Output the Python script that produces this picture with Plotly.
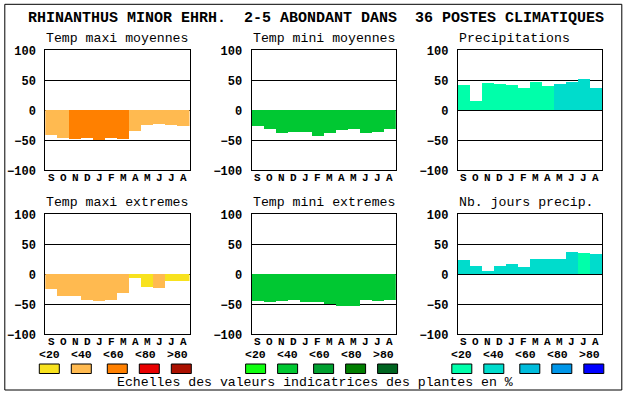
import plotly.graph_objects as go

W, H = 630, 394

# ---------------- data ----------------
MONTHS = ["S", "O", "N", "D", "J", "F", "M", "A", "M", "J", "J", "A"]
TITLE = "RHINANTHUS MINOR EHRH.  2-5 ABONDANT DANS  36 POSTES CLIMATIQUES"
FOOTER = "Echelles des valeurs indicatrices des plantes en %"
SCALE_LABELS = ["<20", "<40", "<60", "<80", ">80"]
Y_TICKS = [-100, -50, 0, 50, 100]

panel_titles = ["Temp maxi moyennes", "Temp mini moyennes", "Precipitations",
                "Temp maxi extremes", "Temp mini extremes", "Nb. jours precip."]

temp_maxi_moy = [-41, -46, -48, -46, -49, -46, -48, -34, -24, -23, -24, -26]
temp_mini_moy = [-26, -31, -38, -36, -36, -43, -38, -33, -31, -38, -36, -31]
precipitations = [42, 15, 45, 44, 42, 37, 47, 40, 44, 47, 52, 37]
temp_maxi_ext = [-24, -36, -36, -42, -44, -42, -31, -6, -21, -22, -11, -11]
temp_mini_ext = [-44, -46, -44, -42, -46, -46, -50, -52, -52, -42, -44, -42]
nb_jours_precip = [24, 14, 5, 14, 17, 12, 25, 25, 25, 37, 35, 34]

# abundance class (index into the colour scale) of each month
cls_maxi_moy = [1, 1, 2, 2, 2, 2, 2, 1, 1, 1, 1, 1]
cls_mini_moy = [1] * 12
cls_precip = [0, 0, 0, 0, 0, 0, 0, 0, 1, 1, 1, 1]
cls_maxi_ext = [1, 1, 1, 1, 1, 1, 1, 0, 0, 1, 0, 0]
cls_mini_ext = [1] * 12
cls_jours = [1, 1, 1, 1, 1, 1, 1, 1, 1, 1, 0, 1]

# ---------------- styles ----------------
ORANGES = ["#F8E21E", "#FFBA50", "#FF8000", "#E80000", "#AA1000"]
GREENS = ["#10FF10", "#00C832", "#00A030", "#007E00", "#006420"]
BLUES = ["#00FFAA", "#00DCCC", "#00BCDC", "#0096E8", "#0000FF"]

panels = [
    (temp_maxi_moy, cls_maxi_moy, ORANGES),
    (temp_mini_moy, cls_mini_moy, GREENS),
    (precipitations, cls_precip, BLUES),
    (temp_maxi_ext, cls_maxi_ext, ORANGES),
    (temp_mini_ext, cls_mini_ext, GREENS),
    (nb_jours_precip, cls_jours, BLUES),
]

MONO = "Liberation Mono"
col_left = [45.3, 251.6, 457.8]
pw = 144.2
row_top = [50.3, 214.3]
ph = 120.0


def px(x):
    return x / W


def py(y):
    return 1 - y / H


fig = go.Figure()
annotations = []
shapes = []

for i, (vals, cls, pal) in enumerate(panels):
    r, c = divmod(i, 3)
    n = i + 1
    xa = "x" if n == 1 else f"x{n}"
    ya = "y" if n == 1 else f"y{n}"
    fig.add_trace(go.Bar(
        x=list(range(len(MONTHS))), y=vals,
        marker=dict(color=[pal[k] for k in cls], line=dict(width=0)),
        width=1.0, xaxis=xa, yaxis=ya, showlegend=False, hoverinfo="skip",
    ))
    x0 = col_left[c]
    y0 = row_top[r]
    xkey = "xaxis" if n == 1 else f"xaxis{n}"
    ykey = "yaxis" if n == 1 else f"yaxis{n}"
    fig.update_layout(**{
        xkey: dict(domain=[px(x0), px(x0 + pw)], anchor=ya, range=[-0.5, 11.5],
                   showticklabels=False,
                   showgrid=False, zeroline=False, showline=True, mirror=True,
                   linecolor="black", linewidth=1, ticks="",
                   automargin=False, fixedrange=True),
        ykey: dict(domain=[py(y0 + ph), py(y0)], anchor=xa, range=[-100, 100],
                   tickmode="array", tickvals=Y_TICKS,
                   showgrid=True, gridcolor="black", gridwidth=1,
                   zeroline=True, zerolinecolor="black", zerolinewidth=1,
                   showline=True, mirror=True, linecolor="black", linewidth=1,
                   ticks="", ticklabelstandoff=6, automargin=False,
                   tickfont=dict(family=MONO, size=12, color="black", weight="bold"),
                   fixedrange=True),
    })
    # month labels placed on the x axis scale
    for m, lab in enumerate(MONTHS):
        annotations.append(dict(
            text=lab, x=m, y=py(y0 + ph + 7.2), xref=xa, yref="paper",
            xanchor="center", yanchor="middle", showarrow=False,
            font=dict(family=MONO, size=11, color="black", weight="bold")))
    annotations.append(dict(
        text=panel_titles[i], x=px(x0 - 1), y=py(y0 - 11.5), xref="paper", yref="paper",
        xanchor="left", yanchor="middle", showarrow=False,
        font=dict(family=MONO, size=13.2, color="black")))

    # legend scales under bottom row
    if r == 1:
        box_off = [-6, 26, 62, 94, 126]
        lab_off = [4, 36, 68, 100, 132]
        for k in range(5):
            shapes.append(dict(type="rect", xref="paper", yref="paper",
                               x0=px(x0 + box_off[k]), x1=px(x0 + box_off[k] + 20),
                               y0=py(373.5), y1=py(364),
                               fillcolor=pal[k], line=dict(color="black", width=1)))
            annotations.append(dict(
                text=SCALE_LABELS[k], x=px(x0 + lab_off[k]), y=py(354.2),
                xref="paper", yref="paper", xanchor="center", yanchor="middle",
                showarrow=False,
                font=dict(family=MONO, size=11.5, color="black", weight="bold")))

annotations.append(dict(
    text=TITLE, x=px(26), y=py(18.3), xref="paper", yref="paper",
    xanchor="left", yanchor="middle", showarrow=False,
    font=dict(family=MONO, size=15, color="black", weight="bold")))
annotations.append(dict(
    text=FOOTER, x=px(115), y=py(382.3), xref="paper", yref="paper",
    xanchor="left", yanchor="middle", showarrow=False,
    font=dict(family=MONO, size=13.2, color="black")))

shapes.append(dict(type="rect", xref="paper", yref="paper",
                   x0=px(4.8), x1=px(621.8), y0=py(390), y1=py(4.3),
                   line=dict(color="black", width=1), fillcolor="rgba(0,0,0,0)"))

fig.update_layout(
    width=W, height=H, margin=dict(l=0, r=0, t=0, b=0, autoexpand=False),
    paper_bgcolor="white", plot_bgcolor="white",
    bargap=0, annotations=annotations, shapes=shapes,
)

fig.write_html("out.html", config={"displayModeBar": False, "staticPlot": True},
               post_script="document.body.style.margin='0';document.body.style.overflow='hidden';")
